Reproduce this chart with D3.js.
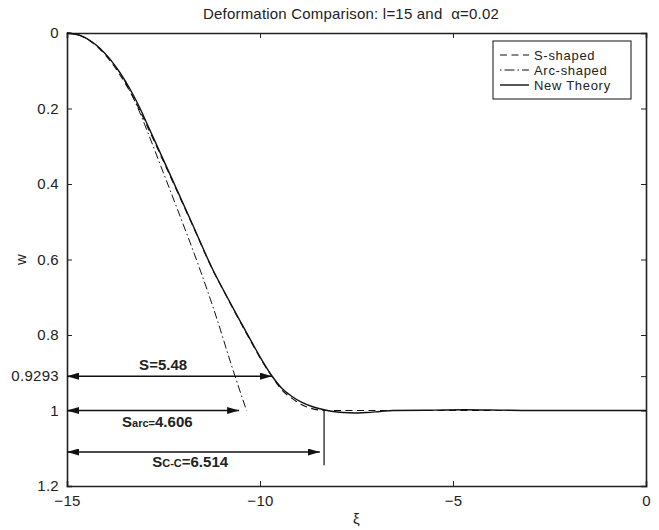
<!DOCTYPE html>
<html lang="en">
<head>
  <meta charset="UTF-8" />
  <title>Deformation Comparison</title>
  <style>
    body {
      margin: 0;
      background: white;
      font-family: "Liberation Sans", Arial, Helvetica, sans-serif;
    }
    svg { display: block; }
    .tick text { font-size: 15px; fill: #222; letter-spacing: 0.3px; }
    .tick line, .domain { stroke: #222; }
    .anno-label { font-size: 15px; font-weight: bold; fill: #222; }
    .txt { font-size: 15px; fill: #222; letter-spacing: 0.2px; }
    .legend-txt { font-size: 13px; fill: #222; letter-spacing: 0.7px; }
  </style>
</head>
<body>
  <svg width="659" height="530"></svg>

  <script src="https://d3js.org/d3.v7.min.js"></script>
  <script>
    // ---- data ----
    const newX = [-15, -14.663, -14.404, -14.145, -13.886, -13.627, -13.368, -13.109, -12.953, -12.332, -11.762, -11.218,
      -10.907, -10.596, -10.285, -9.974, -9.689, -9.430, -9.171, -8.912, -8.653, -8.368, -8.109, -7.850, -7.539,
      -7.228, -6.891, -6.554, -5.5, -4.7, -3.8, -3.0, 0];
    const newW = [0, 0.0064, 0.0199, 0.0408, 0.0691, 0.1052, 0.1483, 0.1995, 0.2344, 0.3746, 0.5038, 0.6278,
      0.6887, 0.7478, 0.8056, 0.8623, 0.9086, 0.9417, 0.9629, 0.9788, 0.9894, 0.9974, 1.0026, 1.0053, 1.0066,
      1.0053, 1.0026, 1.0, 0.999, 0.998, 0.999, 1.0, 1.0];

    const sX = [-15, -14.663, -14.404, -14.145, -13.886, -13.627, -13.368, -13.109, -12.953, -12.332, -11.762, -11.218,
      -10.907, -10.596, -10.285, -9.974, -9.689, -9.430, -9.171, -8.912, -8.653, -8.30, 0];
    const sW = [0, 0.0066, 0.021, 0.043, 0.073, 0.111, 0.155, 0.206, 0.240, 0.378, 0.506, 0.629,
      0.690, 0.750, 0.808, 0.865, 0.910, 0.946, 0.968, 0.985, 0.995, 1.0, 1.0];

    const arcX = [-15, -14.663, -14.404, -14.145, -13.886, -13.627, -13.368, -13.109, -12.850, -12.591, -12.202, -11.606, -11.166, -10.699, -10.35];
    const arcW = [0, 0.0064, 0.0199, 0.0408, 0.0691, 0.106, 0.1536, 0.2119, 0.2781, 0.3470, 0.4503, 0.6119, 0.7417, 0.8927, 1.0];

    const xTicks = [-15, -10, -5, 0];
    const yTicks = [0, 0.2, 0.4, 0.6, 0.8, 0.909, 1, 1.2];
    const yTickLabels = ["0", "0.2", "0.4", "0.6", "0.8", "0.9293", "1", "1.2"];

    // span arrows: level (w), end (xi), label pieces and label anchor
    const spanW = [0.909, 1.0, 1.11];
    const spanEnd = [-9.69, -10.54, -8.45];
    const spanMain = ["S", "S", "S"];
    const spanSub = ["", "arc=", "C-C"];
    const spanTail = ["=5.48", "4.606", "=6.514"];
    const spanLabelX = [-12.51, -12.66, -11.81];
    const spanLabelW = [0.893, 1.044, 1.150];

    const markX = -8.34;
    const markW = [1.0, 1.145];

    const seriesNames = ["S-shaped", "Arc-shaped", "New Theory"];

    // ---- layout ----
    const width = 659, height = 530;
    const margin = { top: 33, right: 13, bottom: 44, left: 67 };

    const svg = d3.select("svg");

    const x = d3.scaleLinear().domain([-15, 0]).range([margin.left, width - margin.right]);
    const y = d3.scaleLinear().domain([0, 1.2]).range([margin.top, height - margin.bottom]);

    svg.append("defs").append("marker")
      .attr("id", "head")
      .attr("viewBox", "0 0 12 7")
      .attr("refX", 12)
      .attr("refY", 3.5)
      .attr("markerWidth", 12)
      .attr("markerHeight", 7)
      .attr("markerUnits", "userSpaceOnUse")
      .attr("orient", "auto-start-reverse")
      .append("path")
      .attr("d", "M0,0 L12,3.5 L0,7 Z")
      .attr("fill", "#111");

    // axes, ticks pointing inward on all four sides
    svg.append("g")
      .attr("transform", `translate(0,${height - margin.bottom})`)
      .call(d3.axisBottom(x).tickValues(xTicks).tickSize(-5).tickPadding(9).tickFormat(d3.format("d")));

    svg.append("g")
      .attr("transform", `translate(0,${margin.top})`)
      .call(d3.axisTop(x).tickValues(xTicks).tickSize(-5).tickFormat(""));

    svg.append("g")
      .attr("transform", `translate(${margin.left},0)`)
      .call(d3.axisLeft(y).tickValues(yTicks).tickSize(-5).tickPadding(8)
        .tickFormat((d, i) => yTickLabels[i]));

    svg.append("g")
      .attr("transform", `translate(${width - margin.right},0)`)
      .call(d3.axisRight(y).tickValues(yTicks).tickSize(-5).tickFormat(""));

    svg.selectAll(".domain").attr("stroke-width", 1.6);
    svg.selectAll(".tick line").attr("stroke-width", 1);
    svg.selectAll(".tick text").attr("font-family", null);

    // curves
    const line = d3.line()
      .x(d => x(d[0]))
      .y(d => y(d[1]))
      .curve(d3.curveMonotoneX);

    const series = [
      { pts: d3.zip(sX, sW), dash: "7,4.5", width: 1.1 },
      { pts: d3.zip(arcX, arcW), dash: "8,3,1.5,3", width: 1 },
      { pts: d3.zip(newX, newW), dash: null, width: 1.4 }
    ];

    svg.append("g")
      .selectAll("path")
      .data(series)
      .join("path")
        .attr("d", d => line(d.pts))
        .attr("fill", "none")
        .attr("stroke", "#111")
        .attr("stroke-width", d => d.width)
        .attr("stroke-dasharray", d => d.dash);

    // span arrows
    const spans = spanW.map((w, i) => ({ w, end: spanEnd[i], lx: spanLabelX[i], lw: spanLabelW[i],
      main: spanMain[i], sub: spanSub[i], tail: spanTail[i] }));

    svg.append("g")
      .selectAll("line")
      .data(spans)
      .join("line")
        .attr("x1", x(-15))
        .attr("x2", d => x(d.end))
        .attr("y1", d => y(d.w))
        .attr("y2", d => y(d.w))
        .attr("stroke", "#111")
        .attr("stroke-width", 1.5)
        .attr("marker-start", "url(#head)")
        .attr("marker-end", "url(#head)");

    const labels = svg.append("g")
      .selectAll("text")
      .data(spans)
      .join("text")
        .attr("class", "anno-label")
        .attr("x", d => x(d.lx))
        .attr("y", d => y(d.lw))
        .attr("text-anchor", "middle");
    labels.append("tspan").text(d => d.main);
    labels.append("tspan").attr("font-size", "11px").text(d => d.sub);
    labels.append("tspan").text(d => d.tail);

    svg.append("line")
      .attr("x1", x(markX)).attr("x2", x(markX))
      .attr("y1", y(markW[0])).attr("y2", y(markW[1]))
      .attr("stroke", "#111")
      .attr("stroke-width", 1.2);

    // title and axis labels
    svg.append("text")
      .attr("class", "txt")
      .attr("x", 351)
      .attr("y", 19)
      .attr("text-anchor", "middle")
      .style("white-space", "pre")
      .text("Deformation Comparison: l=15 and  α=0.02");

    svg.append("text")
      .attr("class", "txt")
      .attr("x", (x.range()[0] + x.range()[1]) / 2)
      .attr("y", 524)
      .attr("text-anchor", "middle")
      .text("ξ");

    svg.append("text")
      .attr("class", "txt")
      .attr("transform", `translate(26,${y(0.6)}) rotate(-90)`)
      .attr("text-anchor", "middle")
      .text("w");

    // legend
    const legend = svg.append("g").attr("transform", "translate(493,41)");
    legend.append("rect")
      .attr("width", 138)
      .attr("height", 58)
      .attr("fill", "white")
      .attr("stroke", "#111")
      .attr("stroke-width", 1);

    const entry = legend.selectAll("g")
      .data(seriesNames)
      .join("g")
        .attr("transform", (d, i) => `translate(0,${14 + i * 15})`);
    entry.append("line")
      .attr("x1", 7).attr("x2", 36)
      .attr("stroke", "#111")
      .attr("stroke-width", (d, i) => series[i].width)
      .attr("stroke-dasharray", (d, i) => i === 1 ? "1.5,3,10,3" : series[i].dash);
    entry.append("text")
      .attr("class", "legend-txt")
      .attr("x", 41)
      .attr("y", 4.5)
      .text(d => d);
  </script>
</body>
</html>
